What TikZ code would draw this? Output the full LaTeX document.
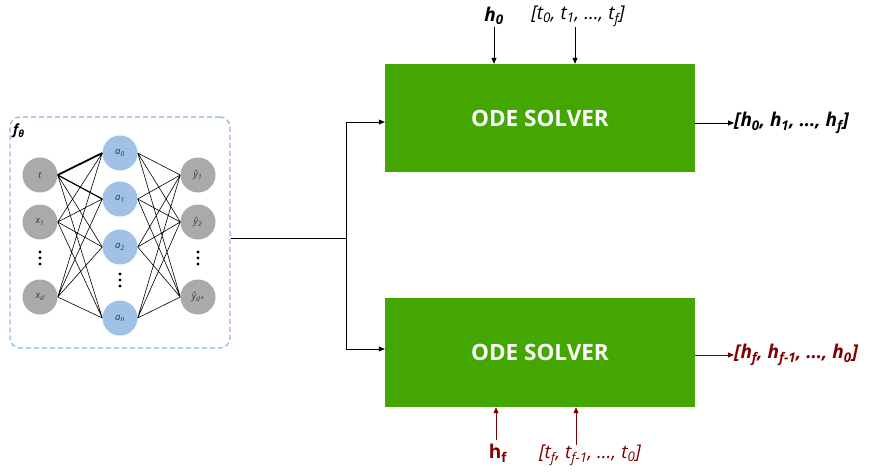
\documentclass[tikz,border=0pt]{standalone}
\usepackage{fontspec}
\setmainfont{Open Sans}
\usetikzlibrary{arrows.meta}
\definecolor{solvergreen}{RGB}{68,166,0}
\definecolor{hidblue}{RGB}{160,194,230}
\definecolor{nodegray}{RGB}{170,170,170}
\definecolor{boxblue}{RGB}{143,180,227}
\definecolor{backred}{RGB}{128,0,0}
\tikzstyle{inode}=[circle,fill=nodegray,minimum size=35pt,inner sep=0pt,text=black!78,font=\fontsize{9.5}{9.5}\selectfont\itshape]
\tikzstyle{hnode}=[inode,fill=hidblue]
\tikzstyle{vdot}=[circle,fill=black,inner sep=0pt,minimum size=3.2pt]
\tikzstyle{solver}=[rectangle,fill=solvergreen,minimum width=310pt,minimum height=108pt,text=white,font=\fontsize{22.5}{22.5}\selectfont\bfseries]
\tikzstyle{flow}=[-{Triangle[length=6pt,width=5pt]}, line width=0.8pt]
\tikzstyle{lbl}=[inner sep=0pt,font=\fontsize{19}{19}\selectfont]
\tikzstyle{net}=[line width=0.6pt]

\begin{document}
\begin{tikzpicture}[x=1pt,y=-1pt]
\useasboundingbox (0,0) rectangle (874,473);
% network f_theta
\node[draw=boxblue,dash pattern=on 5pt off 3pt,rounded corners=10pt,line width=1.2pt,minimum width=220pt,minimum height=231pt] (fbox) at (120,232.5) {};
\node[lbl,anchor=west,font=\fontsize{14}{14}\selectfont\bfseries\itshape] (ftheta) at (13,131) {f\textsubscript{θ}};
\node[inode] (t) at (40,175) {t};
\node[inode] (x1) at (40,222) {x\textsubscript{1}};
\node[inode] (xd) at (40,297) {x\textsubscript{d}};
\node[hnode] (a0) at (120,153) {a\textsubscript{0}};
\node[hnode] (a1) at (120,199) {a\textsubscript{1}};
\node[hnode] (a2) at (120,247) {a\textsubscript{2}};
\node[hnode] (an) at (120,318) {a\textsubscript{n}};
\node[inode] (y1) at (198,175) {ŷ\textsubscript{1}};
\node[inode] (y2) at (198,222) {ŷ\textsubscript{2}};
\node[inode] (yd) at (198,297) {ŷ\textsubscript{d*}};
% vertical dots
\node[vdot] (xdot1) at (40,252) {};
\node[vdot] (xdot2) at (40,258) {};
\node[vdot] (xdot3) at (40,264) {};
\node[vdot] (adot1) at (120,274) {};
\node[vdot] (adot2) at (120,280) {};
\node[vdot] (adot3) at (120,286) {};
\node[vdot] (ydot1) at (198,252) {};
\node[vdot] (ydot2) at (198,258) {};
\node[vdot] (ydot3) at (198,264) {};
\draw[line width=1.8pt] (t.east)--(a0.west);
\draw[line width=1.2pt] (t.east)--(a1.west);
\draw[net] (t.east)--(a2.west) (t.east)--(an.west)
  (x1.east)--(a0.west) (x1.east)--(a1.west) (x1.east)--(a2.west) (x1.east)--(an.west)
  (xd.east)--(a0.west) (xd.east)--(a1.west) (xd.east)--(a2.west) (xd.east)--(an.west);
\draw[net] (a0.east)--(y1.west) (a0.east)--(y2.west) (a0.east)--(yd.west)
  (a1.east)--(y1.west) (a1.east)--(y2.west) (a1.east)--(yd.west)
  (a2.east)--(y1.west) (a2.east)--(y2.west) (a2.east)--(yd.west)
  (an.east)--(y1.west) (an.east)--(y2.west) (an.east)--(yd.west);
% solvers
\node[solver] (top) at (540,118) {ODE SOLVER};
\node[solver,minimum height=109pt] (bot) at (540,352.5) {ODE SOLVER};
\coordinate (split) at (346,238);
\draw[line width=0.8pt] (fbox.east |- split)--(split);
\draw[flow] (split) |- ([yshift=-4pt]top.west);
\draw[flow] (split) |- ([yshift=3.5pt]bot.west);
% forward pass
\node[lbl,font=\fontsize{19}{19}\selectfont\bfseries\itshape] (h0in) at (494,16) {h\textsubscript{0}};
\node[lbl,font=\fontsize{19}{19}\selectfont\itshape] (tin) at (578,16) {[t\textsubscript{0}, t\textsubscript{1}, …, t\textsubscript{f}]};
\coordinate (tarr) at (575,27);
\draw[flow] (h0in.south |- tarr)--(h0in.south |- top.north);
\draw[flow] (tarr)--(tarr |- top.north);
\node[lbl,anchor=west,font=\fontsize{19}{19}\selectfont\bfseries\itshape] (hout) at (734,123) {[h\textsubscript{0}, h\textsubscript{1}, …, h\textsubscript{f}]};
\draw[flow] (top.east |- hout)--(hout.west);
% backward pass
\node[lbl,text=backred,font=\fontsize{19}{19}\selectfont\bfseries] (hfin) at (498,453) {h\textsubscript{f}};
\node[lbl,text=backred,font=\fontsize{19}{19}\selectfont\itshape] (tback) at (590,455) {[t\textsubscript{f}, t\textsubscript{f-1}, …, t\textsubscript{0}]};
\coordinate (hfarr) at (496,440);
\coordinate (tbarr) at (576,445);
\draw[flow,backred] (hfarr)--(hfarr |- bot.south);
\draw[flow,backred] (tbarr)--(tbarr |- bot.south);
\node[lbl,anchor=west,text=backred,font=\fontsize{19}{19}\selectfont\bfseries\itshape] (hback) at (734,355) {[h\textsubscript{f}, h\textsubscript{f-1}, …, h\textsubscript{0}]};
\draw[flow,backred] (bot.east |- hback)--(hback.west);
\end{tikzpicture}
\end{document}
